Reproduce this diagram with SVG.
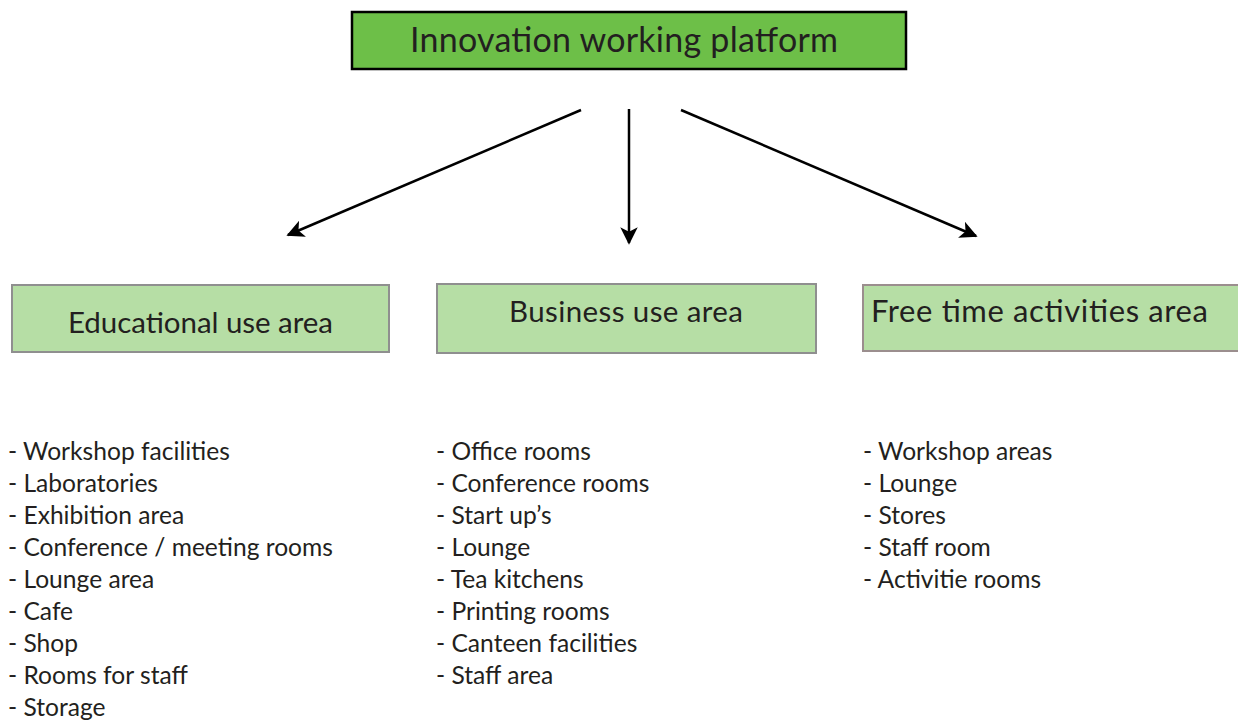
<svg xmlns="http://www.w3.org/2000/svg" width="1238" height="722" viewBox="0 0 1238 722">
<defs>
<marker id="ah" viewBox="0 0 10 10" refX="9" refY="5" markerWidth="7" markerHeight="7" markerUnits="strokeWidth" orient="auto">
<path d="M0,0 L10,5 L0,10 L2.5,5 z" fill="#000"/>
</marker>
<style>
text{font-family:Lato,"Open Sans","Liberation Sans",sans-serif;fill:#231f20}
.sub{fill:#b6dea5;stroke:#8f8f8f;stroke-width:2}
.h{font-size:29.5px}
.li{font-size:24.6px}
.c{stroke:#000;stroke-width:2.5;fill:none;marker-end:url(#ah)}
</style>
</defs>
<rect width="1238" height="722" fill="#fff"/>
<g id="top">
<rect x="352" y="12" width="554" height="57" fill="#6dbf48" stroke="#000" stroke-width="2.5"/>
<text x="624" y="52" text-anchor="middle" font-size="34" textLength="428">Innovation working platform</text>
</g>
<g id="connectors">
<line class="c" x1="581" y1="110" x2="288" y2="235"/>
<line class="c" x1="629" y1="109" x2="629" y2="243"/>
<line class="c" x1="681" y1="110" x2="976" y2="236"/>
</g>
<g id="educational">
<rect class="sub" x="12" y="285" width="377" height="67"/>
<text class="h" x="68" y="333" textLength="265">Educational use area</text>
</g>
<g id="business">
<rect class="sub" x="437" y="284" width="379" height="69"/>
<text class="h" x="509" y="322" textLength="234">Business use  area</text>
</g>
<g id="freetime">
<rect x="863" y="285" width="380" height="66" fill="#b6dea5" stroke="#9b8e8e" stroke-width="2"/>
<text class="h" x="871" y="322" font-size="31" style="font-size:31px" textLength="337">Free time activities area</text>
</g>
<g id="edu-list">
<text class="li" x="8" y="460">- Workshop facilities</text>
<text class="li" x="8" y="492">- Laboratories</text>
<text class="li" x="8" y="524">- Exhibition area</text>
<text class="li" x="8" y="556">- Conference / meeting rooms</text>
<text class="li" x="8" y="588">- Lounge area</text>
<text class="li" x="8" y="620">- Cafe</text>
<text class="li" x="8" y="652">- Shop</text>
<text class="li" x="8" y="684">- Rooms for staff</text>
<text class="li" x="8" y="716">- Storage</text>
</g>
<g id="bus-list">
<text class="li" x="436" y="460">- Office rooms</text>
<text class="li" x="436" y="492">- Conference rooms</text>
<text class="li" x="436" y="524">- Start up’s</text>
<text class="li" x="436" y="556">- Lounge</text>
<text class="li" x="436" y="588">- Tea kitchens</text>
<text class="li" x="436" y="620">- Printing rooms</text>
<text class="li" x="436" y="652">- Canteen facilities</text>
<text class="li" x="436" y="684">- Staff area</text>
</g>
<g id="free-list">
<text class="li" x="863" y="460">- Workshop areas</text>
<text class="li" x="863" y="492">- Lounge</text>
<text class="li" x="863" y="524">- Stores</text>
<text class="li" x="863" y="556">- Staff room</text>
<text class="li" x="863" y="588">- Activitie rooms</text>
</g>
</svg>
